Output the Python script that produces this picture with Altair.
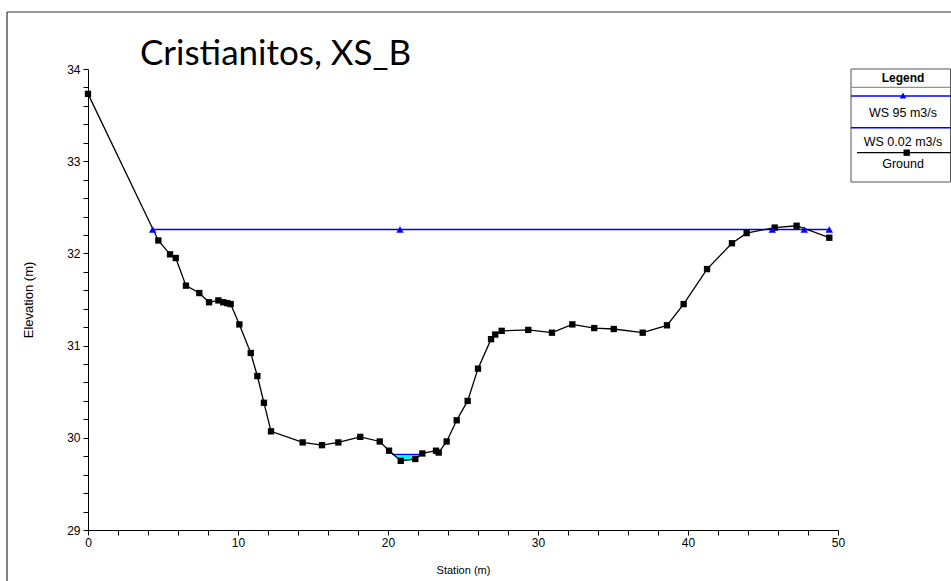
import altair as alt
import pandas as pd

# ---- data ----
ground_station = [0, 4.69, 5.47, 5.85, 6.53, 7.42, 8.07, 8.69, 9.02, 9.29, 9.51,
                  10.09, 10.85, 11.29, 11.73, 12.2, 14.31, 15.6, 16.69, 18.15, 19.45,
                  20.07, 20.85, 21.82, 22.29, 23.2, 23.38, 23.91, 24.58, 25.31, 26.0,
                  26.87, 27.15, 27.58, 29.35, 30.93, 32.29, 33.75, 35.05, 36.98, 38.6,
                  39.71, 41.27, 42.93, 43.91, 45.78, 47.24, 49.42]
ground_elev = [33.73, 32.14, 31.99, 31.95, 31.65, 31.57, 31.47, 31.49, 31.47, 31.46, 31.45,
               31.23, 30.92, 30.67, 30.38, 30.07, 29.95, 29.92, 29.95, 30.01, 29.96,
               29.86, 29.75, 29.77, 29.83, 29.86, 29.84, 29.96, 30.19, 30.40, 30.75,
               31.07, 31.12, 31.16, 31.17, 31.14, 31.23, 31.19, 31.18, 31.14, 31.22,
               31.45, 31.83, 32.11, 32.22, 32.28, 32.30, 32.17]

ws95_station = [4.31, 20.8, 45.62, 47.75, 49.42]
ws95_elev = [32.26, 32.26, 32.26, 32.26, 32.26]

low_station = [20.28, 20.85, 21.82, 22.2]
low_ground = [29.82, 29.75, 29.77, 29.82]
low_ws = [29.82, 29.82, 29.82, 29.82]

x_ticks = [0, 2, 4, 6, 8, 10, 12, 14, 16, 18, 20, 22, 24, 26, 28, 30,
           32, 34, 36, 38, 40, 42, 44, 46, 48, 50]
y_ticks = [29.0, 29.2, 29.4, 29.6, 29.8, 30.0, 30.2, 30.4, 30.6, 30.8, 31.0,
           31.2, 31.4, 31.6, 31.8, 32.0, 32.2, 32.4, 32.6, 32.8, 33.0,
           33.2, 33.4, 33.6, 33.8, 34.0]

title_text = "Cristianitos, XS_B"
legend_title = "Legend"
legend_labels = ["WS 95 m3/s", "WS 0.02 m3/s", "Ground"]

# ---- layout ----
W, H = 750, 461
PAD = {"left": 88, "top": 69, "right": 113, "bottom": 51}
FONT = "Liberation Sans"
BLUE = "#0000FF"

xs = alt.Scale(domain=[0, 50], nice=False, zero=False)
ys = alt.Scale(domain=[29, 34], nice=False, zero=False)

x_axis = alt.Axis(values=x_ticks, format=".0f",
                  labelExpr="datum.value % 10 == 0 ? datum.label : ''",
                  tickSize=5, labelPadding=2, grid=False, labelFlush=False,
                  labelOverlap=False, domainColor="black", tickColor="black",
                  labelColor="black", labelFont=FONT, labelFontSize=12,
                  title="Station (m)", titleFont=FONT, titleFontSize=11,
                  titleFontWeight="normal", titleColor="black", titlePadding=16)
y_axis = alt.Axis(values=y_ticks, format=".0f",
                  labelExpr="abs(datum.value - round(datum.value)) < 0.001 ? datum.label : ''",
                  tickSize=5, labelPadding=3, grid=False, labelFlush=False,
                  labelOverlap=False, domainColor="black", tickColor="black",
                  labelColor="black", labelFont=FONT, labelFontSize=12,
                  title="Elevation (m)", titleFont=FONT, titleFontSize=13,
                  titleFontWeight="normal", titleColor="black", titlePadding=31)


def X(f):
    return alt.X(f, scale=xs, axis=x_axis)


def Y(f):
    return alt.Y(f, scale=ys, axis=y_axis)


ground_df = pd.DataFrame({"station": ground_station, "elev": ground_elev})
ws95_df = pd.DataFrame({"station": ws95_station, "elev": ws95_elev})
low_df = pd.DataFrame({"station": low_station, "ground": low_ground, "ws": low_ws})
one = pd.DataFrame({"k": [0]})

ws_line = alt.Chart(ws95_df).mark_line(color=BLUE, strokeWidth=1.5).encode(
    x=X("station:Q"), y=Y("elev:Q"))
water = alt.Chart(low_df).mark_area(color="#00FFFF", opacity=1).encode(
    x=X("station:Q"), y=Y("ground:Q"), y2="ws:Q")
low_line = alt.Chart(low_df).mark_line(color=BLUE, strokeWidth=1.2).encode(
    x=X("station:Q"), y=Y("ws:Q"))
ground_line = alt.Chart(ground_df).mark_line(color="black", strokeWidth=1.3).encode(
    x=X("station:Q"), y=Y("elev:Q"))
ground_pts = alt.Chart(ground_df).mark_square(color="black", size=40, opacity=1).encode(
    x=X("station:Q"), y=Y("elev:Q"))
ws_pts = alt.Chart(ws95_df).mark_point(shape="triangle-up", filled=True, color=BLUE,
                                       size=55, opacity=1).encode(
    x=X("station:Q"), y=Y("elev:Q"))

# outer frame
frame_top = alt.Chart(one).mark_rule(color="#333333", strokeWidth=1.2).encode(
    x=alt.value(-81), x2=alt.value(951 - 88), y=alt.value(-57))
frame_left = alt.Chart(one).mark_rule(color="#333333", strokeWidth=1.2).encode(
    x=alt.value(-81), y=alt.value(-57), y2=alt.value(581 - 69))

# title
title = alt.Chart(one).mark_text(font="Lato", fontSize=35, align="left",
                                 baseline="alphabetic", color="black").encode(
    x=alt.value(52), y=alt.value(-4), text=alt.value(title_text))

# legend box
LX0, LX1, LC = 763, 862.5, 815
leg_box = alt.Chart(one).mark_rect(fill="white", stroke="#555555", strokeWidth=1).encode(
    x=alt.value(LX0), x2=alt.value(LX1), y=alt.value(0), y2=alt.value(113))
leg_sep = alt.Chart(one).mark_rule(color="#777777", strokeWidth=1).encode(
    x=alt.value(LX0), x2=alt.value(LX1), y=alt.value(18.3))
leg_head = alt.Chart(one).mark_text(font=FONT, fontSize=12, fontWeight="bold",
                                    align="center", baseline="middle", color="black").encode(
    x=alt.value(LC), y=alt.value(9), text=alt.value(legend_title))
leg_l1 = alt.Chart(one).mark_rule(color=BLUE, strokeWidth=1.5).encode(
    x=alt.value(LX0), x2=alt.value(LX1), y=alt.value(27))
leg_m1 = alt.Chart(one).mark_point(shape="triangle-up", filled=True, color=BLUE,
                                   size=45, opacity=1).encode(
    x=alt.value(LC), y=alt.value(26.5))
leg_t1 = alt.Chart(one).mark_text(font=FONT, fontSize=12.5, align="center",
                                  baseline="middle", color="black").encode(
    x=alt.value(LC), y=alt.value(43.7), text=alt.value(legend_labels[0]))
leg_l2 = alt.Chart(one).mark_rule(color=BLUE, strokeWidth=1.5).encode(
    x=alt.value(LX0), x2=alt.value(LX1), y=alt.value(58.7))
leg_t2 = alt.Chart(one).mark_text(font=FONT, fontSize=12.5, align="center",
                                  baseline="middle", color="black").encode(
    x=alt.value(LC), y=alt.value(72.7), text=alt.value(legend_labels[1]))
leg_l3 = alt.Chart(one).mark_rule(color="black", strokeWidth=1.3).encode(
    x=alt.value(LX0 + 6), x2=alt.value(LX1), y=alt.value(83.7))
leg_m3 = alt.Chart(one).mark_square(color="black", size=40, opacity=1).encode(
    x=alt.value(818.7), y=alt.value(83.7))
leg_t3 = alt.Chart(one).mark_text(font=FONT, fontSize=12.5, align="center",
                                  baseline="middle", color="black").encode(
    x=alt.value(LC), y=alt.value(95.3), text=alt.value(legend_labels[2]))

chart = alt.layer(
    frame_top, frame_left, ws_line, water, low_line, ground_line, ground_pts, ws_pts,
    title, leg_box, leg_sep, leg_head, leg_l1, leg_m1, leg_t1, leg_l2, leg_t2,
    leg_l3, leg_m3, leg_t3
).properties(
    width=W, height=H, padding=PAD,
    autosize=alt.AutoSizeParams(type="none"),
    background="white"
).configure_view(stroke=None)

chart.save("out.html", embed_options={"renderer": "svg", "actions": False})
